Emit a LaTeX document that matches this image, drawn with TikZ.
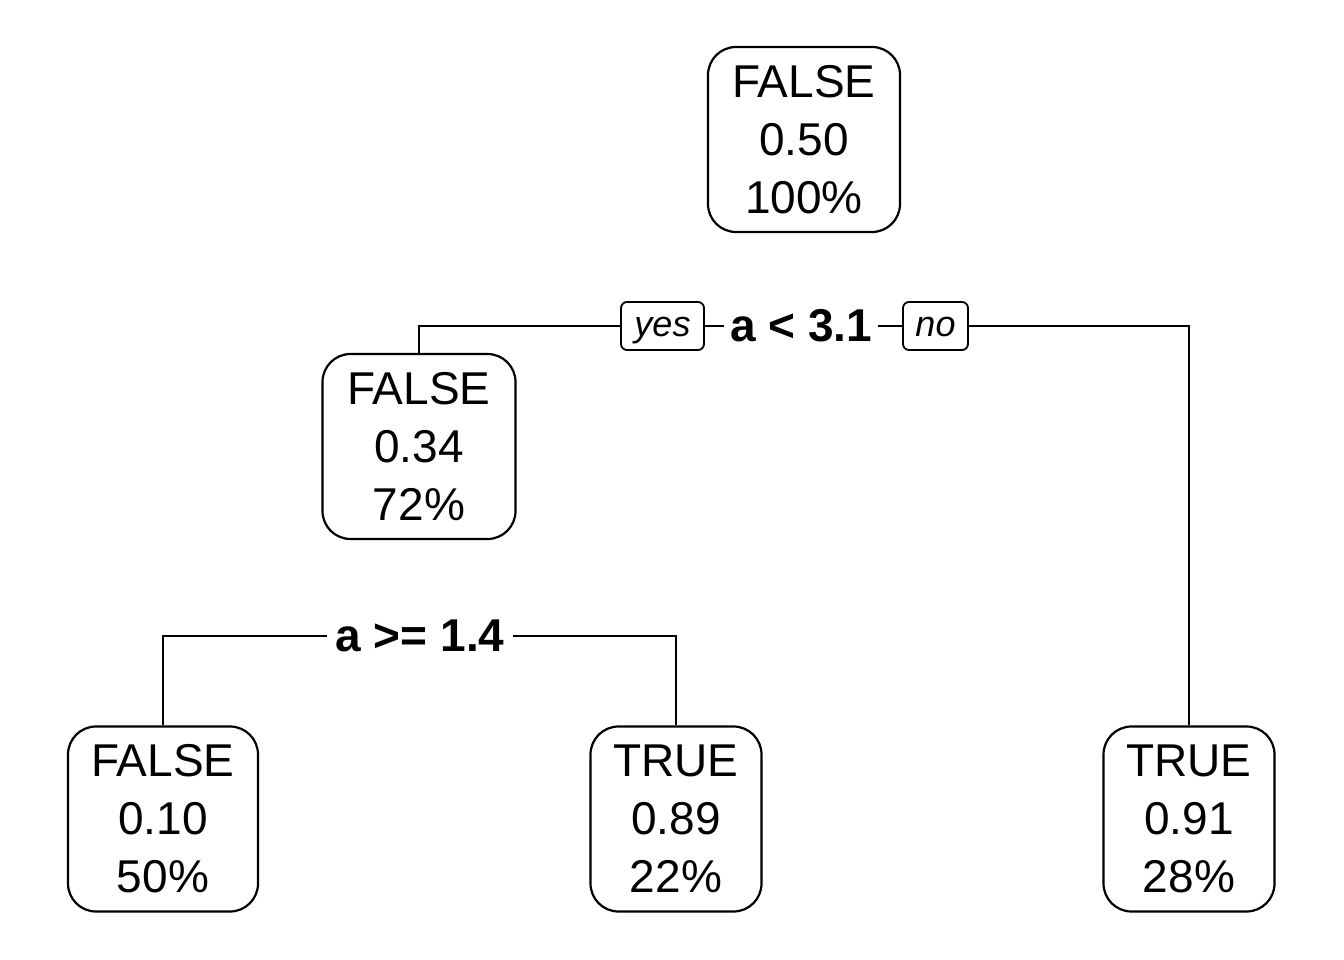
\documentclass[tikz,border=0pt]{standalone}
\usepackage{fontspec}
\setmainfont{Liberation Sans}
\begin{document}
\begin{tikzpicture}[x=1pt,y=-1pt,
  leaf/.style={draw, line width=2.2pt, rounded corners=28pt, align=center,
    font=\fontsize{46}{58}\selectfont, minimum height=185pt, inner sep=0pt},
  splitlab/.style={font=\bfseries\fontsize{46}{50}\selectfont, inner sep=0pt, minimum width=#1},
  yn/.style={draw, line width=1.8pt, rounded corners=6pt, font=\itshape\fontsize{36}{40}\selectfont,
    minimum height=48pt, minimum width=#1, inner sep=0pt, text height=26pt, text depth=6pt},
  conn/.style={line width=2pt}]
\useasboundingbox[fill=white] (0,0) rectangle (1344,960);

\node[leaf, minimum width=192pt] (root) at (804,139.5) {FALSE\\0.50\\100\%};
\node[leaf, minimum width=193pt] (n2) at (419,446.5) {FALSE\\0.34\\72\%};
\node[leaf, minimum width=190pt] (n4) at (163,819) {FALSE\\0.10\\50\%};
\node[leaf, minimum width=171pt] (n5) at (676,819) {TRUE\\0.89\\22\%};
\node[leaf, minimum width=171pt] (n3) at (1189,819) {TRUE\\0.91\\28\%};

\node[splitlab=154pt] (s1) at (801,326) {a < 3.1};
\node[yn=83pt] (yes) at (662.5,326) {yes};
\node[yn=65pt] (no) at (935.5,326) {no};
\node[splitlab=186pt] (s2) at (420,636) {a >= 1.4};

\draw[conn] (n2.north) |- (yes.west);
\draw[conn] (yes.east) -- (s1.west);
\draw[conn] (s1.east) -- (no.west);
\draw[conn] (no.east) -| (n3.north);
\draw[conn] (s2.west) -| (n4.north);
\draw[conn] (s2.east) -| (n5.north);
\end{tikzpicture}
\end{document}
